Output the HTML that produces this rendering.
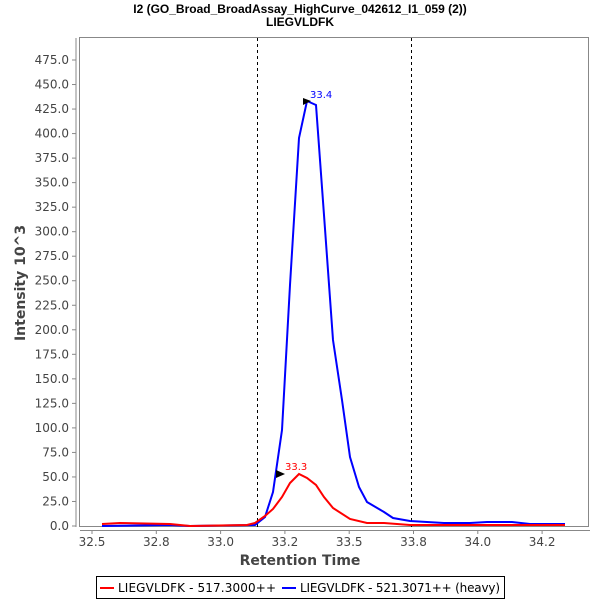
<!DOCTYPE html>
<html><head><style>
body{margin:0;background:#fff;}
svg text{font-family:"DejaVu Sans","Liberation Sans",sans-serif;}
</style></head><body>
<svg width="600" height="600" viewBox="0 0 600 600">
<rect width="600" height="600" fill="#fff"/>
<text x="300" y="13" text-anchor="middle" font-size="12" font-weight="bold" fill="#000" style="font-family:'Liberation Sans',sans-serif">I2 (GO_Broad_BroadAssay_HighCurve_042612_I1_059 (2))</text>
<text x="300" y="26" text-anchor="middle" font-size="12" font-weight="bold" fill="#000" style="font-family:'Liberation Sans',sans-serif">LIEGVLDFK</text>
<rect x="79.5" y="37.5" width="509" height="489" fill="#fff" stroke="#888"/>
<line x1="76" y1="38" x2="76" y2="527" stroke="#888"/>
<line x1="80" y1="530.5" x2="590" y2="530.5" stroke="#888"/>
<g stroke="#000" stroke-dasharray="3,3"><line x1="257.5" y1="38" x2="257.5" y2="527"/><line x1="411.5" y1="38" x2="411.5" y2="527"/></g>
<g font-size="12" fill="#444" text-anchor="end" id="yt"></g>
<g font-size="12" fill="#444" text-anchor="middle" id="xt"></g>
<text x="300" y="565" text-anchor="middle" font-size="14" font-weight="bold" fill="#444">Retention Time</text>
<text transform="translate(25,283) rotate(-90)" text-anchor="middle" font-size="14" font-weight="bold" fill="#444">Intensity 10^3</text>
<polyline fill="none" stroke="#0000ff" stroke-width="2" points="102,526 170,525 190,526 255,525 265,517 273,492 282,430 290,285 299,138 307,101 316,105 324,215 333,340 342,400 350,457 359,487 367,502 384,512 393,518 410,521 427,522 444,523 470,523 487,522 512,522 530,524 565,524"/>
<polyline fill="none" stroke="#ff0000" stroke-width="2" points="102,524 120,523 170,524 190,526 247,525 255,523 265,516 273,509 282,497 290,483 299,474 307,478 316,485 324,497 333,508 350,519 367,523 384,523 410,525 565,525"/>
<polygon points="303,98 303,105 311,101" fill="#000"/>
<polygon points="276,470 276,478 285,474" fill="#000"/>
<text x="310" y="98" font-size="10" fill="#0000ff">33.4</text>
<text x="285" y="470" font-size="10" fill="#ff0000">33.3</text>
<rect x="96.5" y="576.5" width="408" height="22" fill="#fff" stroke="#000"/>
<line x1="100" y1="588" x2="114" y2="588" stroke="#ff0000" stroke-width="2"/>
<text x="118" y="592" font-size="12" fill="#000" textLength="158">LIEGVLDFK - 517.3000++</text>
<line x1="282" y1="588" x2="296" y2="588" stroke="#0000ff" stroke-width="2"/>
<text x="300" y="592" font-size="12" fill="#000" textLength="200">LIEGVLDFK - 521.3071++ (heavy)</text>
</svg>
<script>
var ns="http://www.w3.org/2000/svg";
var yt=document.getElementById("yt");
for(var v=0;v<=475;v+=25){var y=526-v*466/475;
var t=document.createElementNS(ns,"text");t.setAttribute("x",69);t.setAttribute("y",y+4);t.textContent=v.toFixed(1);yt.appendChild(t);
var l=document.createElementNS(ns,"line");l.setAttribute("x1",72);l.setAttribute("x2",76);l.setAttribute("y1",y);l.setAttribute("y2",y);l.setAttribute("stroke","#888");yt.appendChild(l);}
var xt=document.getElementById("xt");
var labs=["32.5","32.8","33.0","33.2","33.5","33.8","34.0","34.2"];
for(var i=0;i<8;i++){var x=92+i*64.3;
var t=document.createElementNS(ns,"text");t.setAttribute("x",x);t.setAttribute("y",546);t.textContent=labs[i];xt.appendChild(t);
var l=document.createElementNS(ns,"line");l.setAttribute("x1",x);l.setAttribute("x2",x);l.setAttribute("y1",530);l.setAttribute("y2",534);l.setAttribute("stroke","#888");xt.appendChild(l);}
</script>
</body></html>
